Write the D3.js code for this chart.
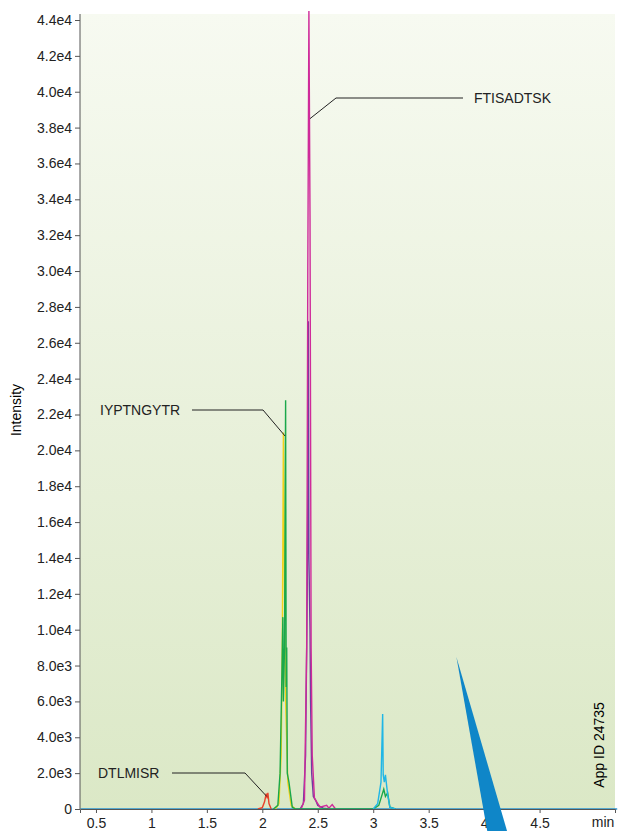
<!DOCTYPE html>
<html><head><meta charset="utf-8">
<script src="https://cdn.jsdelivr.net/npm/d3@7"></script>
<style>body{margin:0;background:#fff}text{font-family:"Liberation Sans",Arial,sans-serif}</style>
</head><body><svg id="c" width="619" height="831"></svg>
<script>
// tick labels
const yTicks = [0,2000,4000,6000,8000,10000,12000,14000,16000,18000,20000,22000,24000,26000,28000,30000,32000,34000,36000,38000,40000,42000,44000];
const yLabels = ["0","2.0e3","4.0e3","6.0e3","8.0e3","1.0e4","1.2e4","1.4e4","1.6e4","1.8e4","2.0e4","2.2e4","2.4e4","2.6e4","2.8e4","3.0e4","3.2e4","3.4e4","3.6e4","3.8e4","4.0e4","4.2e4","4.4e4"];
const xTicks = [0.5,1,1.5,2,2.5,3,3.5,4,4.5];

// traces [time, intensity]
const baseBlue = [[0.36,0],[5.2,0]];
const red = [[1.96,0],[2.0,80],[2.02,400],[2.035,850],[2.045,600],[2.05,900],[2.06,300],[2.08,0]];
const yellow = [[2.12,0],[2.15,300],[2.17,3000],[2.18,9000],[2.19,21000],[2.2,12000],[2.21,6000],[2.23,1500],[2.26,200],[2.3,0]];
const green = [[2.1,0],[2.14,200],[2.16,2000],[2.175,7000],[2.185,10700],[2.19,6000],[2.2,9000],[2.21,22800],[2.215,6800],[2.22,9000],[2.225,2000],[2.24,1500],[2.27,100],[2.3,0],[3.0,0],[3.05,200],[3.08,800],[3.095,1100],[3.11,700],[3.13,900],[3.15,100],[3.2,0]];
const purple = [[2.34,0],[2.37,300],[2.39,3000],[2.405,12000],[2.41,17400],[2.415,27200],[2.42,14000],[2.43,10000],[2.435,6000],[2.445,2000],[2.46,700],[2.48,500],[2.5,200],[2.55,50],[2.6,0]];
const magenta = [[2.35,0],[2.38,500],[2.4,9000],[2.41,30000],[2.42,44500],[2.43,33000],[2.44,9000],[2.45,3000],[2.47,600],[2.49,400],[2.52,100],[2.58,200],[2.6,50],[2.63,250],[2.66,0]];
const cyan = [[3.0,0],[3.04,300],[3.07,1500],[3.085,5300],[3.09,1900],[3.1,1500],[3.11,1900],[3.13,800],[3.15,100],[3.2,0]];
const series = [
  {d: baseBlue, c: "#2b95d0"},
  {d: red, c: "#e8402a"},
  {d: yellow, c: "#f2d21b"},
  {d: purple, c: "#6a3fa0"},
  {d: magenta, c: "#cf2a9a"},
  {d: green, c: "#1aa84a"},
  {d: cyan, c: "#1fb6e6"}
];
const labels = [
  {name: "FTISADTSK", t: 2.43, v: 38500, lx: 336, ly: 98, tx: 474, sx: 463},
  {name: "IYPTNGYTR", t: 2.205, v: 20800, lx: 263, ly: 410, tx: 100, sx: 192},
  {name: "DTLMISR", t: 2.04, v: 700, lx: 245, ly: 773, tx: 98, sx: 172}
];
const wedge = [[3.75,8480],[4.03,-1300],[4.21,-1300]];

const svg = d3.select("#c");
const x = d3.scaleLinear().domain([0.356, 5.18]).range([80, 615]);
const y = d3.scaleLinear().domain([0, 44000]).range([809, 20]);

const grad = svg.append("defs").append("linearGradient").attr("id","bg").attr("x1",0).attr("x2",0).attr("y1",0).attr("y2",1);
grad.append("stop").attr("offset","0%").attr("stop-color","#f7faf1");
grad.append("stop").attr("offset","100%").attr("stop-color","#dbe8c6");
svg.append("rect").attr("x",80).attr("y",14).attr("width",535).attr("height",795).attr("fill","url(#bg)");

const line = d3.line().x(d => x(d[0])).y(d => y(d[1]));
series.forEach(s => svg.append("path").attr("d", line(s.d)).attr("fill","none").attr("stroke", s.c).attr("stroke-width",1.4));

// y axis
const ya = svg.append("g").attr("transform","translate(80,0)")
  .call(d3.axisLeft(y).tickValues(yTicks).tickFormat((d,i) => yLabels[i]).tickSize(5));
ya.select(".domain").attr("d","M0,14V809").attr("stroke","#555");
ya.selectAll("text").attr("font-size",14).attr("fill","#222");
ya.selectAll("line").attr("stroke","#555");

// x axis
const xa = svg.append("g").attr("transform","translate(0,809)")
  .call(d3.axisBottom(x).tickValues(xTicks).tickFormat(d => d).tickSize(4));
xa.select(".domain").attr("stroke","#555");
xa.selectAll("text").attr("font-size",14).attr("fill","#222").attr("dy","0.85em");
xa.selectAll("line").attr("stroke","#555");

svg.append("polygon").attr("points", wedge.map(p => [x(p[0]), y(p[1])].join(",")).join(" ")).attr("fill","#0f86c8");

labels.forEach(l => {
  svg.append("polyline").attr("points", `${l.sx},${l.ly} ${l.lx},${l.ly} ${x(l.t)},${y(l.v)}`)
    .attr("fill","none").attr("stroke","#222").attr("stroke-width",1);
  svg.append("text").attr("x",l.tx).attr("y",l.ly+5).attr("font-size",14).attr("fill","#222").text(l.name);
});

svg.append("text").attr("transform","translate(21,410) rotate(-90)").attr("text-anchor","middle").attr("font-size",14).text("Intensity");
svg.append("text").attr("transform","translate(604,745) rotate(-90)").attr("text-anchor","middle").attr("font-size",14).text("App ID 24735");
svg.append("text").attr("x",603).attr("y",827).attr("text-anchor","middle").attr("font-size",14).attr("fill","#222").text("min");
</script></body></html>
